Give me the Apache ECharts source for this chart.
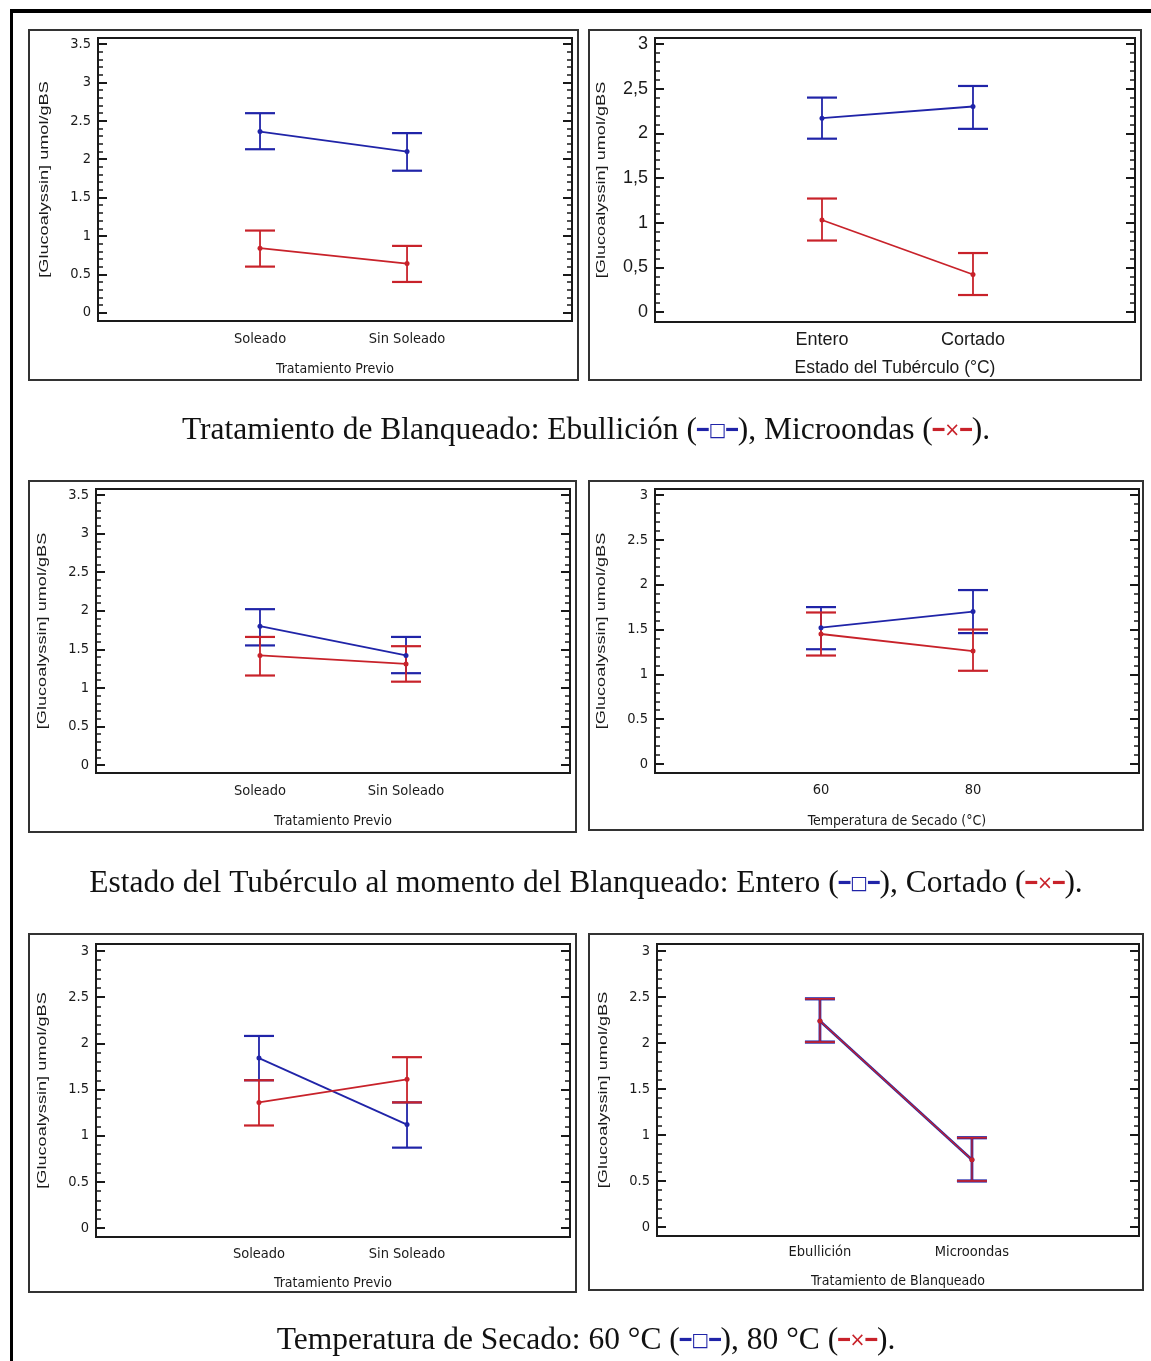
<!DOCTYPE html>
<html><head><meta charset="utf-8">
<script src="https://cdn.jsdelivr.net/npm/echarts@6/dist/echarts.min.js"></script>
<style>html,body{margin:0;padding:0;background:#fff}#c{width:1151px;height:1361px}</style>
</head><body><div id="c"></div>
<script>
// ---------------- DATA ----------------
// Panel 1: Tratamiento Previo x Tratamiento de Blanqueado
const p1Cats = ['Soleado', 'Sin Soleado'];
const p1EbuMean = [2.36, 2.10];
const p1EbuLow  = [2.13, 1.85];
const p1EbuHigh = [2.60, 2.34];
const p1MicMean = [0.84, 0.64];
const p1MicLow  = [0.60, 0.40];
const p1MicHigh = [1.07, 0.87];
const p1YTicks = [0, 0.5, 1, 1.5, 2, 2.5, 3, 3.5];

// Panel 2: Estado del Tubérculo x Tratamiento de Blanqueado
const p2Cats = ['Entero', 'Cortado'];
const p2EbuMean = [2.17, 2.30];
const p2EbuLow  = [1.94, 2.05];
const p2EbuHigh = [2.40, 2.53];
const p2MicMean = [1.03, 0.42];
const p2MicLow  = [0.80, 0.19];
const p2MicHigh = [1.27, 0.66];
const p2YTicks = [0, 0.5, 1, 1.5, 2, 2.5, 3];

// Panel 3: Tratamiento Previo x Estado del Tubérculo
const p3Cats = ['Soleado', 'Sin Soleado'];
const p3EntMean = [1.80, 1.42];
const p3EntLow  = [1.55, 1.19];
const p3EntHigh = [2.02, 1.66];
const p3CorMean = [1.42, 1.31];
const p3CorLow  = [1.16, 1.08];
const p3CorHigh = [1.66, 1.54];
const p3YTicks = [0, 0.5, 1, 1.5, 2, 2.5, 3, 3.5];

// Panel 4: Temperatura de Secado x Estado del Tubérculo
const p4Cats = ['60', '80'];
const p4EntMean = [1.52, 1.70];
const p4EntLow  = [1.28, 1.46];
const p4EntHigh = [1.75, 1.94];
const p4CorMean = [1.45, 1.26];
const p4CorLow  = [1.21, 1.04];
const p4CorHigh = [1.69, 1.50];
const p4YTicks = [0, 0.5, 1, 1.5, 2, 2.5, 3];

// Panel 5: Tratamiento Previo x Temperatura de Secado
const p5Cats = ['Soleado', 'Sin Soleado'];
const p5T60Mean = [1.84, 1.12];
const p5T60Low  = [1.60, 0.87];
const p5T60High = [2.08, 1.36];
const p5T80Mean = [1.36, 1.61];
const p5T80Low  = [1.11, 1.36];
const p5T80High = [1.60, 1.85];
const p5YTicks = [0, 0.5, 1, 1.5, 2, 2.5, 3];

// Panel 6: Tratamiento de Blanqueado x Temperatura de Secado
const p6Cats = ['Ebullición', 'Microondas'];
const p6T60Mean = [2.24, 0.73];
const p6T60Low  = [2.01, 0.50];
const p6T60High = [2.48, 0.97];
const p6T80Mean = [2.24, 0.73];
const p6T80Low  = [2.01, 0.50];
const p6T80High = [2.48, 0.97];
const p6YTicks = [0, 0.5, 1, 1.5, 2, 2.5, 3];

const yName = '[Glucoalyssin] umol/gBS';
const captions = [
  ['Tratamiento de Blanqueado: Ebullición (', '), Microondas (', ').'],
  ['Estado del Tubérculo al momento del Blanqueado: Entero (', '), Cortado (', ').'],
  ['Temperatura de Secado: 60 °C (', '), 80 °C (', ').']
];

// ---------------- LAYOUT / STYLE ----------------
const BLUE = '#2024a8', RED = '#c8222a', INK = '#1a1a1a';
const NARROW = '"DejaVu Sans Condensed","Liberation Sans",sans-serif';
const SANS = '"Liberation Sans",Arial,sans-serif';

const panels = [
  {cats:p1Cats, ticks:p1YTicks, box:[29,30,578,380], frame:[98,38,572,321], xr:[-0.102,3.122], yr:[-0.109,3.58],
   xName:'Tratamiento Previo', font:NARROW, fs:14.5, nfs:14, lm:11, ng:41, comma:false, lw:[1.8,1.8],
   groups:[[p1EbuMean,p1EbuLow,p1EbuHigh,BLUE],[p1MicMean,p1MicLow,p1MicHigh,RED]]},
  {cats:p2Cats, ticks:p2YTicks, box:[589,30,1141,380], frame:[655,38,1135,322], xr:[-0.106,3.073], yr:[-0.112,3.067],
   xName:'Estado del Tubérculo (°C)', font:SANS, fs:18, nfs:17.5, lm:9, ng:37, comma:true, lw:[1.8,1.8],
   groups:[[p2EbuMean,p2EbuLow,p2EbuHigh,BLUE],[p2MicMean,p2MicLow,p2MicHigh,RED]]},
  {cats:p3Cats, ticks:p3YTicks, box:[29,481,576,832], frame:[96,489,570,773], xr:[-0.123,3.123], yr:[-0.104,3.578],
   xName:'Tratamiento Previo', font:NARROW, fs:14.5, nfs:14, lm:11, ng:41, comma:false, lw:[1.8,1.8],
   groups:[[p3EntMean,p3EntLow,p3EntHigh,BLUE],[p3CorMean,p3CorLow,p3CorHigh,RED]]},
  {cats:p4Cats, ticks:p4YTicks, box:[589,481,1143,830], frame:[655,489,1139,773], xr:[-0.092,3.092], yr:[-0.1,3.067],
   xName:'Temperatura de Secado (°C)', font:NARROW, fs:14.5, nfs:14, lm:10, ng:41, comma:false, lw:[1.8,1.8],
   groups:[[p4EntMean,p4EntLow,p4EntHigh,BLUE],[p4CorMean,p4CorLow,p4CorHigh,RED]]},
  {cats:p5Cats, ticks:p5YTicks, box:[29,934,576,1292], frame:[96,944,570,1237], xr:[-0.101,3.101], yr:[-0.098,3.076],
   xName:'Tratamiento Previo', font:NARROW, fs:14.5, nfs:14, lm:10, ng:39, comma:false, lw:[1.8,1.8],
   groups:[[p5T60Mean,p5T60Low,p5T60High,BLUE],[p5T80Mean,p5T80Low,p5T80High,RED]]},
  {cats:p6Cats, ticks:p6YTicks, box:[589,934,1143,1290], frame:[657,944,1139,1236], xr:[-0.072,3.099], yr:[-0.098,3.076],
   xName:'Tratamiento de Blanqueado', font:NARROW, fs:14.5, nfs:14, lm:9, ng:38, comma:false, lw:[2.8,1.3],
   groups:[[p6T60Mean,p6T60Low,p6T60High,BLUE],[p6T80Mean,p6T80Low,p6T80High,RED]]}
];
const captionY = [431, 884, 1341];

// ---------------- BUILD ----------------
const grid = [], xAxis = [], yAxis = [], series = [], graphic = [];

graphic.push({type:'rect', shape:{x:10, y:10, width:3, height:1351}, style:{fill:'#000'}, z:1});
graphic.push({type:'rect', shape:{x:10, y:9, width:1141, height:4}, style:{fill:'#000'}, z:1});

panels.forEach((p, i) => {
  const [l, t, r, b] = p.frame;
  grid.push({left:l, top:t, width:r-l, height:b-t, show:true, borderColor:INK, borderWidth:2,
             backgroundColor:'transparent', containLabel:false});
  const [bl, bt, br, bb] = p.box;
  graphic.push({type:'rect', shape:{x:bl, y:bt, width:br-bl, height:bb-bt},
                style:{fill:'none', stroke:'#333', lineWidth:2}, z:1});
  graphic.push({type:'text', x:l - 53, y:(t + b) / 2, rotation:Math.PI / 2, scaleX:1.45,
                style:{text:yName, fontFamily:SANS, fontSize:12.5, fill:INK, align:'center', verticalAlign:'middle'}, z:5});

  const minors = [];
  const tmax = p.ticks[p.ticks.length - 1];
  for (let k = 0; k <= Math.round(tmax * 10); k++) minors.push(+(k / 10).toFixed(1));

  xAxis.push({type:'value', gridIndex:i, min:p.xr[0], max:p.xr[1],
    axisLine:{show:false}, axisTick:{show:false}, splitLine:{show:false},
    axisLabel:{customValues:[1, 2], formatter:v => p.cats[Math.round(v) - 1] || '',
      fontFamily:p.font, fontSize:p.fs, color:INK, margin:p.lm},
    name:p.xName, nameLocation:'middle', nameGap:p.ng,
    nameTextStyle:{fontFamily:p.font, fontSize:p.nfs, color:INK}});

  const yBase = (pos, major) => ({type:'value', gridIndex:i, min:p.yr[0], max:p.yr[1], position:pos, offset:0,
    axisLine:{show:false, onZero:false}, splitLine:{show:false},
    axisTick:{show:true, inside:true, length:major ? 9 : 5, customValues:major ? p.ticks : minors,
      lineStyle:{color:INK, width:major ? 2 : 1.5}},
    axisLabel:(major && pos === 'left') ? {show:true, inside:false, customValues:p.ticks, fontFamily:p.font, fontSize:p.fs, color:INK, margin:7,
      formatter:v => p.comma ? String(v).replace('.', ',') : String(v)} : {show:false}});
  const yi = yAxis.length;
  yAxis.push(yBase('left', true), yBase('left', false), yBase('right', true), yBase('right', false));

  p.groups.forEach(([mean, low, high, color], g) => {
    const lw = p.lw[g];
    series.push({type:'custom', xAxisIndex:i, yAxisIndex:yi,
      data:low.map((lo, j) => [j + 1, lo, high[j]]),
      renderItem:(params, api) => {
        const x = api.value(0);
        const a = api.coord([x, api.value(1)]);
        const c = api.coord([x, api.value(2)]);
        return {type:'group', children:[
          {type:'line', shape:{x1:a[0], y1:a[1], x2:c[0], y2:c[1]}, style:{stroke:color, lineWidth:lw}},
          {type:'line', shape:{x1:a[0] - 15, y1:a[1], x2:a[0] + 15, y2:a[1]}, style:{stroke:color, lineWidth:lw + 0.4}},
          {type:'line', shape:{x1:c[0] - 15, y1:c[1], x2:c[0] + 15, y2:c[1]}, style:{stroke:color, lineWidth:lw + 0.4}}
        ]};
      }, z:3});
    series.push({type:'line', xAxisIndex:i, yAxisIndex:yi,
      data:mean.map((m, j) => [j + 1, m]),
      symbol:'circle', symbolSize:5, showSymbol:true,
      itemStyle:{color:color}, lineStyle:{color:color, width:lw}, z:4, animation:false});
  });
});

captions.forEach((c, k) => {
  graphic.push({type:'text', x:586, y:captionY[k], z:5,
    style:{text:'{t|' + c[0] + '}{b|━□━}{t|' + c[1] + '}{r|━×━}{t|' + c[2] + '}',
      align:'center', verticalAlign:'middle',
      rich:{t:{fontFamily:'"Liberation Serif","Times New Roman",serif', fontSize:31.5, fill:'#111'},
            b:{fontFamily:'"DejaVu Sans",sans-serif', fontSize:19, fill:BLUE},
            r:{fontFamily:'"DejaVu Sans",sans-serif', fontSize:19, fill:RED}}}});
});

const chart = echarts.init(document.getElementById('c'), null, {renderer:'canvas'});
chart.setOption({animation:false, backgroundColor:'#fff', grid, xAxis, yAxis, series, graphic});
</script></body></html>
